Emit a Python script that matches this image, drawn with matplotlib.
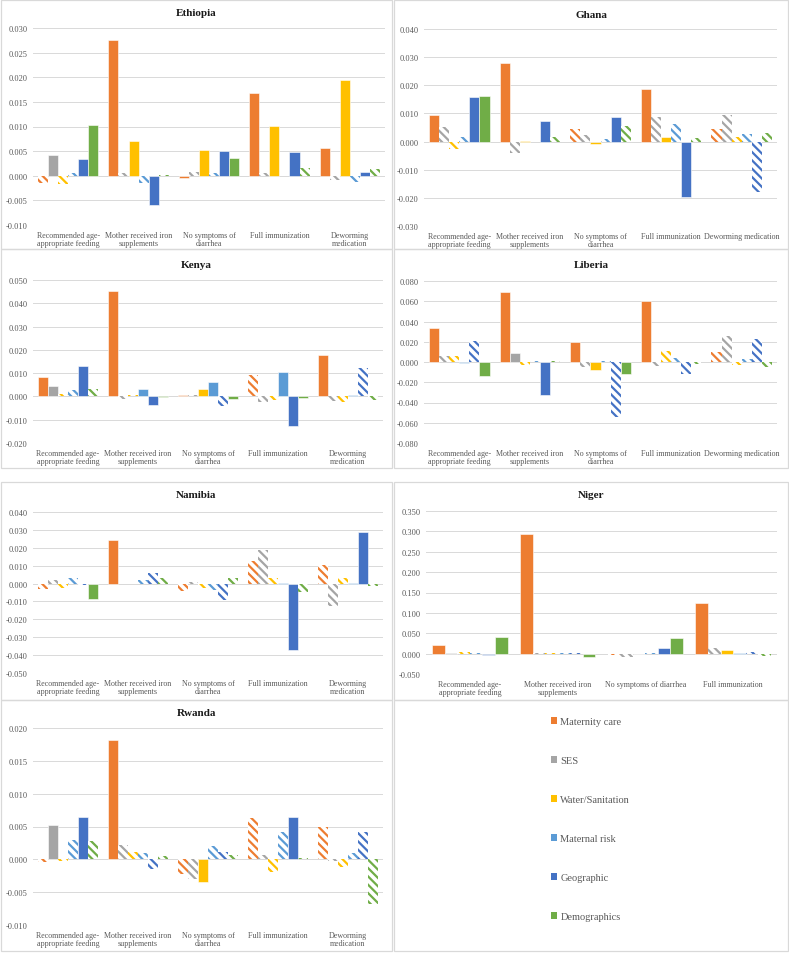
import matplotlib
matplotlib.use("Agg")
import matplotlib.pyplot as plt
from matplotlib.patches import Rectangle, Patch
from matplotlib.ticker import FuncFormatter
import numpy as np

plt.rcParams['font.family'] = ['Liberation Serif', 'DejaVu Serif']
plt.rcParams['hatch.linewidth'] = 1.6

series = ['Maternity care', 'SES', 'Water/Sanitation', 'Maternal risk', 'Geographic', 'Demographics']
colors = ['#ED7D31', '#A5A5A5', '#FFC000', '#5B9BD5', '#4472C4', '#70AD47']

cats = ['Recommended age-\nappropriate feeding', 'Mother received iron\nsupplements',
        'No symptoms of\ndiarrhea', 'Full immunization', 'Deworming\nmedication']
cats_wide = ['Recommended age-\nappropriate feeding', 'Mother received iron\nsupplements',
             'No symptoms of\ndiarrhea', 'Full immunization', 'Deworming medication']
cats_niger = ['Recommended age-\nappropriate feeding', 'Mother received iron\nsupplements',
              'No symptoms of diarrhea', 'Full immunization']

# rows = series (Maternity, SES, Water, Maternal risk, Geographic, Demographics), cols = categories
ethiopia = [[-0.0015, 0.0275, -0.0004, 0.0169, 0.0057],
            [0.0043, 0.0006, 0.0008, 0.0005, -0.0008],
            [-0.0017, 0.0071, 0.0052, 0.0101, 0.0194],
            [0.0006, -0.0015, 0.0006, 0.0000, -0.0012],
            [0.0034, -0.0060, 0.0050, 0.0048, 0.0008],
            [0.0103, 0.0001, 0.0036, 0.0015, 0.0013]]
ethiopia_sig = [[0, 1, 1, 1, 1], [1, 0, 0, 0, 0], [0, 1, 1, 1, 1],
                [0, 0, 0, 0, 0], [1, 1, 1, 1, 1], [1, 0, 1, 0, 0]]

ghana = [[0.0093, 0.0280, 0.0046, 0.0187, 0.0043],
         [0.0052, -0.0040, 0.0024, 0.0088, 0.0093],
         [-0.0025, 0.0003, -0.0010, 0.0016, 0.0017],
         [0.0018, 0.0000, 0.0010, 0.0061, 0.0028],
         [0.0158, 0.0072, 0.0087, -0.0197, -0.0180],
         [0.0162, 0.0016, 0.0055, 0.0014, 0.0031]]
ghana_sig = [[1, 1, 0, 1, 0], [0, 0, 0, 0, 0], [0, 1, 1, 1, 0],
             [0, 0, 0, 0, 0], [1, 1, 1, 1, 0], [1, 0, 0, 0, 0]]

kenya = [[0.0083, 0.0453, 0.0005, 0.0090, 0.0176],
         [0.0046, -0.0010, 0.0005, -0.0025, -0.0020],
         [0.0010, 0.0005, 0.0034, -0.0015, -0.0025],
         [0.0027, 0.0030, 0.0062, 0.0104, 0.0005],
         [0.0130, -0.0038, -0.0043, -0.0128, 0.0121],
         [0.0030, -0.0003, -0.0010, -0.0005, -0.0015]]
kenya_sig = [[1, 1, 1, 0, 1], [1, 0, 0, 0, 0], [0, 0, 1, 0, 0],
             [0, 1, 1, 1, 1], [1, 1, 0, 1, 0], [0, 1, 1, 1, 0]]

liberia = [[0.0332, 0.0692, 0.0202, 0.0607, 0.0100],
           [0.0060, 0.0093, -0.0045, -0.0035, 0.0260],
           [0.0055, -0.0030, -0.0078, 0.0105, -0.0025],
           [-0.0005, 0.0005, 0.0005, 0.0035, 0.0025],
           [0.0212, -0.0327, -0.0540, -0.0120, 0.0230],
           [-0.0138, 0.0005, -0.0120, -0.0020, -0.0050]]
liberia_sig = [[1, 1, 1, 1, 0], [0, 1, 0, 0, 0], [0, 0, 1, 0, 0],
               [1, 0, 0, 0, 0], [0, 1, 0, 0, 0], [1, 0, 1, 0, 0]]

namibia = [[-0.0033, 0.0241, -0.0043, 0.0125, 0.0105],
           [0.0022, 0.0000, 0.0008, 0.0190, -0.0123],
           [-0.0025, 0.0000, -0.0025, 0.0030, 0.0030],
           [0.0033, 0.0018, -0.0035, 0.0003, 0.0003],
           [-0.0010, 0.0057, -0.0090, -0.0373, 0.0288],
           [-0.0087, 0.0030, 0.0033, -0.0045, -0.0015]]
namibia_sig = [[0, 1, 0, 0, 0], [0, 0, 0, 0, 0], [0, 0, 0, 0, 0],
               [0, 0, 0, 1, 1], [0, 0, 0, 1, 1], [1, 0, 0, 0, 0]]

niger = [[0.020, 0.293, -0.003, 0.124],
         [0.001, 0.002, -0.009, 0.015],
         [0.003, 0.002, -0.002, 0.008],
         [0.001, 0.001, 0.001, 0.001],
         [-0.003, 0.001, 0.014, 0.005],
         [0.041, -0.009, 0.039, -0.006]]
niger_sig = [[1, 1, 0, 1], [1, 0, 0, 0], [0, 0, 1, 1],
             [0, 0, 0, 1], [1, 0, 1, 0], [1, 1, 1, 0]]

rwanda = [[-0.0004, 0.0182, -0.0022, 0.0063, 0.0049],
          [0.0052, 0.0022, -0.0030, 0.0007, -0.0002],
          [-0.0002, 0.0011, -0.0034, -0.0019, -0.0011],
          [0.0030, 0.0009, 0.0021, 0.0041, 0.0010],
          [0.0065, -0.0014, 0.0011, 0.0064, 0.0042],
          [0.0028, 0.0005, 0.0007, 0.0002, -0.0068]]
rwanda_sig = [[0, 1, 0, 0, 0], [1, 0, 0, 0, 0], [0, 0, 1, 0, 0],
              [0, 0, 0, 0, 0], [1, 0, 0, 1, 0], [0, 0, 0, 0, 0]]

W, H = 789, 954
fig = plt.figure(figsize=(W / 100, H / 100), dpi=100)


def px_rect(x0, y0, x1, y1):
    return [x0 / W, 1 - y1 / H, (x1 - x0) / W, (y1 - y0) / H]


def box(x0, y0, x1, y1):
    fig.patches.append(Rectangle((x0 / W, 1 - y1 / H), (x1 - x0) / W, (y1 - y0) / H,
                                 transform=fig.transFigure, fill=False,
                                 edgecolor='#D9D9D9', linewidth=0.9))


def panel(name, vals, sig, labels, ylim, step, plot_px, box_px, title_y):
    box(*box_px)
    fig.text((box_px[0] + box_px[2]) / 2 / W, 1 - title_y / H, name,
             ha='center', va='center', fontsize=8, fontweight='bold', color='#1a1a1a')
    ax = fig.add_axes(px_rect(*plot_px))
    n = len(labels)
    x = np.arange(n)
    w = 0.143
    for i in range(6):
        for j in range(n):
            if sig[i][j]:
                ax.bar(x[j] + (i - 2.5) * w, vals[i][j], w, color=colors[i],
                       edgecolor='white', linewidth=0.4, zorder=3)
            else:
                ax.bar(x[j] + (i - 2.5) * w, vals[i][j], w, color='white',
                       edgecolor=colors[i], linewidth=0, hatch='\\\\\\\\', zorder=3)
    ax.set_xlim(-0.5, n - 0.5)
    ax.set_ylim(*ylim)
    ax.set_yticks(np.arange(ylim[0], ylim[1] + step / 2, step))
    ax.yaxis.set_major_formatter(FuncFormatter(lambda v, p: f"{round(v, 4) + 0:.3f}"))
    ax.set_xticks(x)
    ax.set_xticklabels(labels, fontsize=5.8, color='#595959', linespacing=1.1)
    ax.tick_params(axis='y', labelsize=6, labelcolor='#595959', length=0, pad=4)
    ax.tick_params(axis='x', length=0, pad=4)
    ax.grid(axis='y', color='#D9D9D9', linewidth=0.7, zorder=0)
    ax.axhline(0, color='#D9D9D9', linewidth=0.7, zorder=1)
    for s in ax.spines.values():
        s.set_visible(False)
    return ax


panel('Ethiopia', ethiopia, ethiopia_sig, cats, (-0.010, 0.030), 0.005,
      (33, 29, 385, 226), (1, 1, 392, 250), 14)
panel('Ghana', ghana, ghana_sig, cats_wide, (-0.030, 0.040), 0.010,
      (424, 30, 777, 227), (394, 1, 788, 250), 15)
panel('Kenya', kenya, kenya_sig, cats, (-0.020, 0.050), 0.010,
      (33, 281, 383, 444), (1, 250, 392, 469), 266)
panel('Liberia', liberia, liberia_sig, cats_wide, (-0.080, 0.080), 0.020,
      (424, 282, 777, 444), (394, 250, 788, 469), 266)
panel('Namibia', namibia, namibia_sig, cats, (-0.050, 0.040), 0.010,
      (33, 513, 383, 674), (1, 483, 392, 701), 496)
panel('Niger', niger, niger_sig, cats_niger, (-0.050, 0.350), 0.050,
      (426, 512, 777, 675), (394, 483, 788, 701), 496)
panel('Rwanda', rwanda, rwanda_sig, cats, (-0.010, 0.020), 0.005,
      (33, 729, 383, 926), (1, 701, 392, 952), 714)

# legend panel
box(394, 701, 788, 952)
handles = [Patch(facecolor=c, edgecolor='none') for c in colors]
fig.legend(handles, series, loc='upper left', bbox_to_anchor=(551 / W, 1 - 718 / H),
           frameon=False, fontsize=7.5, labelspacing=2.88, handlelength=0.6,
           handleheight=0.6, handletextpad=0.3, labelcolor='#595959',
           borderpad=0, borderaxespad=0)

fig.savefig('out.png', dpi=100)
